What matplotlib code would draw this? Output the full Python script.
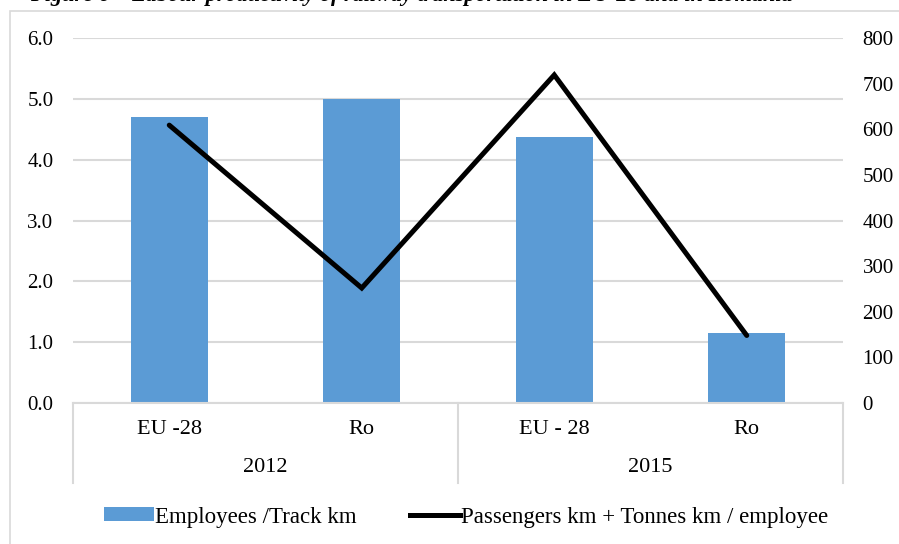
import matplotlib
matplotlib.use('Agg')
import matplotlib.pyplot as plt
from matplotlib.patches import Rectangle, Patch
from matplotlib.lines import Line2D

plt.rcParams['font.family'] = ['Liberation Serif', 'DejaVu Serif']

# data
countries = ['EU -28', 'Ro', 'EU - 28', 'Ro']
years = ['2012', '2015']
employees_per_km = [4.70, 5.00, 4.37, 1.15]
pkm_tkm_per_employee = [609, 252, 719, 148]

bar_color = '#5B9BD5'
grid_color = '#D9D9D9'

W, H = 899, 544
fig = plt.figure(figsize=(W / 100, H / 100), dpi=100)
fig.patch.set_facecolor('white')

# chart area border (cut off at right and bottom)
fig.patches.append(Rectangle((10 / W, -0.1), 2, 1 - 11 / H + 0.1,
                             transform=fig.transFigure, fill=False,
                             edgecolor=grid_color, linewidth=1.2))

# caption of the page, mostly cut off at the top
fig.text(30 / W, 1 - 0.5 / H,
         'Figure 6 \u2013 Labour productivity of railway transportation in EU-28 and in Romania',
         fontsize=16, fontweight='bold', style='italic', va='baseline', ha='left')

ax = fig.add_axes([73 / W, 1 - 403 / H, (843 - 73) / W, (403 - 38) / H])
x = list(range(len(countries)))

ax.bar(x, employees_per_km, width=0.4, color=bar_color, zorder=2)
ax.set_xlim(-0.5, len(countries) - 0.5)
ax.set_ylim(0, 6)
ax.set_yticks([0, 1, 2, 3, 4, 5, 6])
ax.set_yticklabels([f'{v:.1f}' for v in range(7)])
ax.yaxis.grid(True, color=grid_color, linewidth=1.5, zorder=0)
ax.set_axisbelow(True)
ax.set_xticks([])
ax.tick_params(axis='y', length=0, pad=14, labelsize=15)
for s in ['top', 'left', 'right']:
    ax.spines[s].set_visible(False)
ax.spines['bottom'].set_color(grid_color)
ax.spines['bottom'].set_linewidth(1.5)

ax2 = ax.twinx()
ax2.plot(x, pkm_tkm_per_employee, color='black', linewidth=3.6,
         solid_capstyle='round', solid_joinstyle='miter', zorder=3)
ax2.set_ylim(0, 800)
ax2.set_yticks(range(0, 801, 100))
ax2.tick_params(axis='y', length=0, pad=14, labelsize=15)
for s in ax2.spines.values():
    s.set_visible(False)

# multi-level category axis
tr = ax.get_xaxis_transform()
for i, lab in enumerate(countries):
    ax.text(i, -27 / 365, lab, transform=tr, ha='center', va='center', fontsize=16)
for j, yr in enumerate(years):
    ax.text(2 * j + 0.5, -65 / 365, yr, transform=tr, ha='center', va='center', fontsize=16)
for xs in [-0.5, 1.5, 3.5]:
    ax.add_line(Line2D([xs, xs], [0, -80 / 365], transform=tr, color=grid_color,
                       linewidth=1.5, clip_on=False))

handles = [Patch(facecolor=bar_color, edgecolor='none'),
           Line2D([0], [0], color='black', linewidth=3.6)]
fig.legend(handles, ['Employees /Track km', 'Passengers km + Tonnes km / employee'],
           loc='center', bbox_to_anchor=(466 / W, 1 - 517 / H), ncol=2,
           frameon=False, fontsize=16.5, handlelength=2.2, handleheight=0.55,
           handletextpad=0.05, columnspacing=2.3)

fig.savefig('out.png', dpi=100)
